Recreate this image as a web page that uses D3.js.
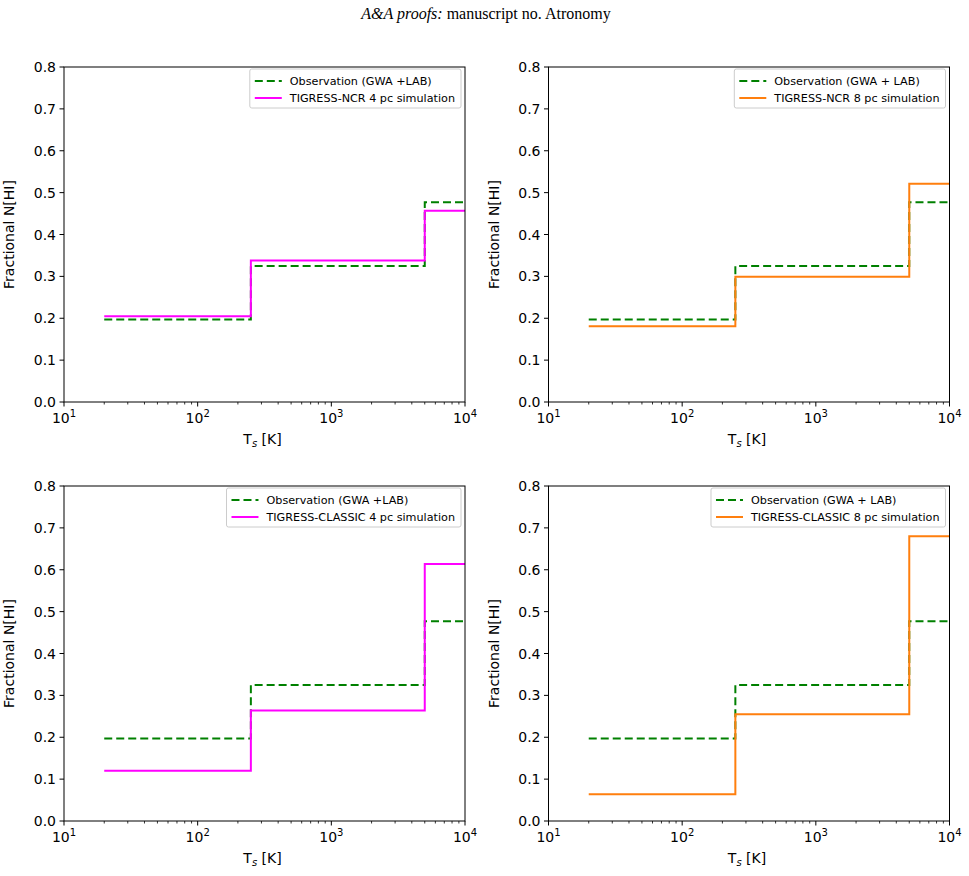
<!DOCTYPE html>
<html>
<head>
<meta charset="utf-8">
<script src="https://cdn.jsdelivr.net/npm/d3@7"></script>
<style>
  body { margin: 0; background: #fff; }
  svg { display: block; }
  text { font-family: "DejaVu Sans", sans-serif; fill: #000; }
  .header { font-family: "Liberation Serif", "Times New Roman", serif; font-size: 16px; }
  .tick-label { font-size: 14px; }
  .axis-title { font-size: 14px; }
  .legend-text { font-size: 11.2px; }
</style>
</head>
<body>
<script>
// Bin edges of the spin temperature histogram (K)
const EDGES = [20, 250, 5000, 10000];

// Fractional N[HI] per bin
const OBS = [0.197, 0.325, 0.477];
const NCR_4PC = [0.205, 0.338, 0.457];
const NCR_8PC = [0.181, 0.299, 0.521];
const CLASSIC_4PC = [0.120, 0.264, 0.614];
const CLASSIC_8PC = [0.064, 0.255, 0.680];

const OBS_LABELS = ["Observation (GWA +LAB)", "Observation (GWA + LAB)",
                    "Observation (GWA +LAB)", "Observation (GWA + LAB)"];
const SIM_LABELS = ["TIGRESS-NCR 4 pc simulation", "TIGRESS-NCR 8 pc simulation",
                    "TIGRESS-CLASSIC 4 pc simulation", "TIGRESS-CLASSIC 8 pc simulation"];

const Y_TICKS = [0, 0.1, 0.2, 0.3, 0.4, 0.5, 0.6, 0.7, 0.8];
const X_TICKS = [10, 100, 1000, 10000];
const X_EXPONENTS = ["1", "2", "3", "4"];

const W = 969, H = 876;
const PANEL_W = 401, PANEL_H = 335;
const COLS = [64, 548.5], ROWS = [67, 486];

const GREEN = "#008000", MAGENTA = "#ff00ff", ORANGE = "#ff7f0e";

const panels = [
  { sim: NCR_4PC, color: MAGENTA, col: 0, row: 0 },
  { sim: NCR_8PC, color: ORANGE, col: 1, row: 0 },
  { sim: CLASSIC_4PC, color: MAGENTA, col: 0, row: 1 },
  { sim: CLASSIC_8PC, color: ORANGE, col: 1, row: 1 },
];

const svg = d3.select("body").append("svg")
  .attr("width", W).attr("height", H);

// Page header
const hdr = svg.append("text").attr("class", "header")
  .attr("x", 486).attr("y", 19).attr("text-anchor", "middle");
hdr.append("tspan").style("font-style", "italic").text("A&A proofs:");
hdr.append("tspan").text(" manuscript no. Atronomy");

const x = d3.scaleLog().domain([10, 10000]).range([0, PANEL_W]);
const y = d3.scaleLinear().domain([0, 0.8]).range([PANEL_H, 0]);

// step line: value holds until the next edge, last value runs to 10^4
const stepLine = d3.line()
  .x((d) => x(d[0]))
  .y((d) => y(d[1]))
  .curve(d3.curveStepAfter);

function stepPoints(vals) {
  const pts = vals.map((v, i) => [EDGES[i], v]);
  pts.push([EDGES[EDGES.length - 1], vals[vals.length - 1]]);
  return pts;
}

// minor ticks for the log axis
const minorTicks = [];
for (let dec = 10; dec < 10000; dec *= 10) {
  for (let k = 2; k <= 9; k++) minorTicks.push(dec * k);
}

panels.forEach((p, i) => {
  const g = svg.append("g")
    .attr("transform", `translate(${COLS[p.col]},${ROWS[p.row]})`);

  // Lines (observation first, simulation on top)
  g.append("path")
    .attr("d", stepLine(stepPoints(OBS)))
    .attr("fill", "none")
    .attr("stroke", GREEN)
    .attr("stroke-width", 2)
    .attr("stroke-dasharray", "8,4");
  g.append("path")
    .attr("d", stepLine(stepPoints(p.sim)))
    .attr("fill", "none")
    .attr("stroke", p.color)
    .attr("stroke-width", 2);

  // Frame
  g.append("rect")
    .attr("width", PANEL_W).attr("height", PANEL_H)
    .attr("fill", "none").attr("stroke", "#000").attr("stroke-width", 1);

  // y ticks
  Y_TICKS.forEach((t) => {
    g.append("line")
      .attr("x1", -4.5).attr("x2", 0)
      .attr("y1", y(t)).attr("y2", y(t))
      .attr("stroke", "#000");
    g.append("text").attr("class", "tick-label")
      .attr("x", -8).attr("y", y(t))
      .attr("dy", "0.36em")
      .attr("text-anchor", "end")
      .text(t.toFixed(1));
  });

  // x ticks
  X_TICKS.forEach((t, j) => {
    g.append("line")
      .attr("x1", x(t)).attr("x2", x(t))
      .attr("y1", PANEL_H).attr("y2", PANEL_H + 4.5)
      .attr("stroke", "#000");
    const lbl = g.append("text").attr("class", "tick-label")
      .attr("x", x(t)).attr("y", PANEL_H + 21)
      .attr("text-anchor", "middle");
    lbl.append("tspan").text("10");
    lbl.append("tspan").attr("dy", -6).style("font-size", "10px").text(X_EXPONENTS[j]);
  });
  minorTicks.forEach((t) => {
    g.append("line")
      .attr("x1", x(t)).attr("x2", x(t))
      .attr("y1", PANEL_H).attr("y2", PANEL_H + 2.5)
      .attr("stroke", "#000").attr("stroke-width", 0.8);
  });

  // Axis titles
  const xt = g.append("text").attr("class", "axis-title")
    .attr("x", PANEL_W / 2 - 2).attr("y", PANEL_H + 42)
    .attr("text-anchor", "middle");
  xt.append("tspan").text("T");
  xt.append("tspan").attr("dy", 3).style("font-size", "10px").style("font-style", "italic").text("s");
  xt.append("tspan").attr("dy", -3).text(" [K]");

  g.append("text").attr("class", "axis-title")
    .attr("transform", `translate(${-50},${PANEL_H / 2}) rotate(-90)`)
    .attr("text-anchor", "middle")
    .text("Fractional N[HI]");

  // Legend, upper right
  const lg = g.append("g");
  const box = lg.append("rect")
    .attr("fill", "#fff").attr("fill-opacity", 0.8)
    .attr("stroke", "#ccc").attr("stroke-width", 1).attr("rx", 2);
  const t1 = lg.append("text").attr("class", "legend-text")
    .attr("y", 12).attr("dy", "0.35em").text(OBS_LABELS[i]);
  const t2 = lg.append("text").attr("class", "legend-text")
    .attr("y", 29).attr("dy", "0.35em").text(SIM_LABELS[i]);
  const textW = Math.max(t1.node().getComputedTextLength(), t2.node().getComputedTextLength());
  const handleX0 = 5, handleX1 = 32, textX = 40;
  t1.attr("x", textX);
  t2.attr("x", textX);
  lg.append("line")
    .attr("x1", handleX0).attr("x2", handleX1).attr("y1", 12).attr("y2", 12)
    .attr("stroke", GREEN).attr("stroke-width", 2).attr("stroke-dasharray", "8,4");
  lg.append("line")
    .attr("x1", handleX0).attr("x2", handleX1).attr("y1", 29).attr("y2", 29)
    .attr("stroke", p.color).attr("stroke-width", 2);
  const boxW = textX + textW + 6;
  box.attr("width", boxW).attr("height", 39);
  lg.attr("transform", `translate(${PANEL_W - 4 - boxW},${2})`);
});
</script>
</body>
</html>
